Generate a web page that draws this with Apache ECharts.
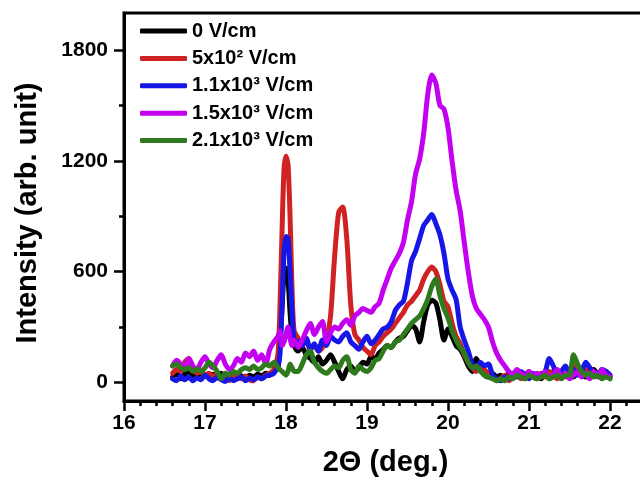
<!DOCTYPE html>
<html>
<head>
<meta charset="utf-8">
<script src="https://cdn.jsdelivr.net/npm/echarts@6/dist/echarts.min.js"></script>
<style>
html,body{margin:0;padding:0;background:#fff;}
#chart{width:640px;height:483px;}
</style>
</head>
<body>
<div id="chart"></div>
<script>
// 2-theta positions (deg.)
const xs = [
16.60,16.65,16.70,16.75,16.80,16.85,16.90,16.95,17.00,17.05,
17.10,17.15,17.20,17.25,17.30,17.35,17.40,17.45,17.50,17.55,
17.60,17.65,17.70,17.75,17.80,17.85,
17.900,17.925,17.950,17.975,18.000,18.025,18.050,18.075,18.100,
18.15,18.20,18.25,18.30,18.35,18.40,18.45,18.50,18.55,18.60,
18.65,18.70,18.75,18.80,18.85,18.90,18.95,19.00,19.05,19.10,
19.15,19.20,19.25,19.30,19.35,19.40,19.45,19.50,19.55,19.60,
19.65,19.70,19.75,19.80,19.85,19.90,19.95,20.00,20.05,20.10,
20.15,20.20,20.25,20.30,20.35,20.40,20.45,20.50,20.55,20.60,
20.65,20.70,20.75,20.80,20.85,20.90,20.95,21.00,21.05,21.10,
21.15,21.20,21.25,21.30,21.35,21.40,21.45,21.50,21.55,21.60,
21.65,21.70,21.75,21.80,21.85,21.90,21.95,22.00];

const seriesNames = ['0 V/cm', '5x10\u00B2 V/cm', '1.1x10\u00B3 V/cm', '1.5x10\u00B3 V/cm', '2.1x10\u00B3 V/cm'];

const black = [
30,50,20,45,60,40,30,55,40,35,
45,25,50,30,40,20,45,35,25,40,
30,45,35,50,40,60,
80,200,400,580,620,560,380,250,200,
170,190,150,130,110,140,100,120,150,110,
60,20,70,90,60,80,110,100,140,130,
160,180,200,190,220,240,250,280,310,290,
220,330,420,445,430,340,230,290,250,200,
180,140,90,60,130,80,40,30,50,30,
40,20,50,30,60,40,20,50,30,40,
20,50,40,60,30,50,40,60,30,50,
40,30,60,70,40,50,60,30];

const red = [
50,70,60,110,130,80,50,60,40,50,
30,50,20,40,10,30,40,20,35,15,
10,30,20,40,50,70,
150,400,800,1150,1225,1180,900,500,280,
240,200,230,180,200,170,190,230,360,680,
920,950,780,420,260,230,190,170,150,200,
220,250,270,290,320,350,380,420,440,470,
500,560,600,625,600,530,440,410,320,250,
210,150,110,80,60,100,70,50,30,10,
20,40,10,30,50,20,40,60,30,20,
50,30,60,40,20,50,30,70,90,60,
40,60,80,50,40,30,60,40];

const blue = [
20,10,35,15,30,10,25,15,40,20,
10,30,15,5,25,10,20,30,10,25,
15,30,20,35,40,50,
90,150,400,700,790,780,600,380,230,
220,200,240,180,210,170,230,200,250,230,
220,250,270,220,200,180,220,250,210,230,
260,290,300,330,390,420,440,540,660,710,
780,850,880,910,860,800,700,560,500,450,
300,230,170,100,80,110,90,100,40,20,
10,30,20,50,30,60,40,20,50,30,
40,60,130,90,40,60,90,50,70,40,
60,110,80,50,40,70,60,40];

const magenta = [
90,120,100,80,130,90,70,110,140,100,
80,120,150,100,70,90,130,110,160,140,
170,120,150,100,180,220,
250,280,200,220,260,300,240,200,230,
190,230,280,320,260,300,330,220,270,300,
290,320,340,310,360,380,400,390,380,410,
430,500,560,620,660,700,760,880,980,1130,
1210,1350,1560,1665,1620,1500,1480,1380,1200,1040,
930,760,600,470,400,370,340,300,220,160,
120,90,60,40,70,50,30,60,40,50,
30,60,20,40,70,30,50,20,40,60,
30,50,20,60,30,70,40,30];

const green = [
90,100,80,70,80,60,75,60,80,110,
90,60,20,50,40,60,50,70,80,70,
90,70,80,100,90,110,
80,70,60,50,40,60,100,80,60,
60,100,150,170,110,80,60,50,70,90,
80,120,140,70,50,90,70,60,80,120,
130,170,200,190,220,230,260,290,320,340,
360,400,450,520,560,470,400,350,280,230,
190,160,110,80,90,60,40,30,20,10,
20,10,30,20,40,30,20,40,30,20,
30,40,20,30,40,20,40,40,150,100,
60,40,50,30,40,20,30,20];

const yMajor = [0, 600, 1200, 1800];
const yMinor = [300, 900, 1500];

const colors = ['#000000', '#d02222', '#1616e6', '#c400f0', '#2f7a1c'];
const allData = [black, red, blue, magenta, green];

const FONT = 'Liberation Sans, Arial, Helvetica, sans-serif';

const chart = echarts.init(document.getElementById('chart'), null, {renderer: 'canvas'});

const series = allData.map((arr, k) => ({
  name: seriesNames[k],
  type: 'line',
  data: xs.map((x, i) => [x, arr[i]]),
  showSymbol: false,
  smooth: 0.25,
  lineStyle: {color: colors[k], width: 5, cap: 'round', join: 'round'},
  itemStyle: {color: colors[k]},
  z: 2 + k,
  animation: false
}));

chart.setOption({
  animation: false,
  backgroundColor: '#ffffff',
  grid: {left: 124, top: 13, width: 567, height: 388, containLabel: false, outerBoundsMode: 'none',
    show: true, borderColor: '#000', borderWidth: 3, backgroundColor: 'transparent'},
  legend: {
    left: 140, top: 20, orient: 'vertical', padding: 0,
    itemWidth: 47, itemHeight: 5, itemGap: 5.4, icon: 'roundRect',
    textStyle: {fontFamily: FONT, fontWeight: 'bold', fontSize: 20, color: '#000', lineHeight: 22},
    data: seriesNames
  },
  xAxis: {
    type: 'value', min: 16, max: 23, interval: 1,
    name: '2\u0398 (deg.)', nameLocation: 'middle', nameGap: 47,
    nameTextStyle: {fontFamily: FONT, fontWeight: 'bold', fontSize: 29, color: '#000', padding: [0, 44, 0, 0]},
    axisLine: {show: true, onZero: false, lineStyle: {color: '#000', width: 3}},
    axisTick: {show: true, inside: false, length: 10, lineStyle: {color: '#000', width: 2.5}},
    minorTick: {show: true, splitNumber: 5, length: 5, lineStyle: {color: '#000', width: 2.5}},
    axisLabel: {fontFamily: FONT, fontWeight: 'bold', fontSize: 21, color: '#000', margin: 12,
      formatter: function (v) { return v > 22 ? '' : String(v); }},
    splitLine: {show: false}
  },
  yAxis: [{
    type: 'value', min: -100, max: 2000,
    name: 'Intensity (arb. unit)', nameLocation: 'middle', nameGap: 82,
    nameTextStyle: {fontFamily: FONT, fontWeight: 'bold', fontSize: 29, color: '#000', padding: [0, 12, 0, 0]},
    axisLine: {show: true, onZero: false, lineStyle: {color: '#000', width: 3}},
    axisTick: {show: true, inside: false, length: 10, customValues: yMajor, lineStyle: {color: '#000', width: 2.5}},
    axisLabel: {fontFamily: FONT, fontWeight: 'bold', fontSize: 21, color: '#000', margin: 16, customValues: yMajor,
      formatter: function (v) { return String(v); }},
    splitLine: {show: false}
  }, {
    type: 'value', min: -100, max: 2000, position: 'left',
    axisLine: {show: false},
    axisTick: {show: true, inside: false, length: 5, customValues: yMinor, lineStyle: {color: '#000', width: 2.5}},
    axisLabel: {show: false},
    splitLine: {show: false}
  }],
  series: series
});
</script>
</body>
</html>
